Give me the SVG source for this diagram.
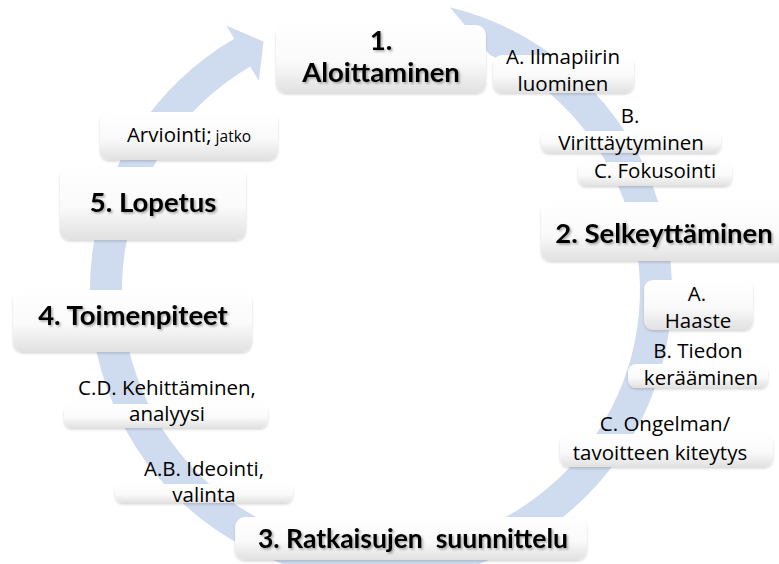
<svg xmlns="http://www.w3.org/2000/svg" width="779" height="564" viewBox="0 0 779 564">
  <defs>
    <linearGradient id="boxFill" x1="0" y1="0" x2="0" y2="1">
      <stop offset="0" stop-color="#ffffff"/>
      <stop offset="0.55" stop-color="#fafafa"/>
      <stop offset="1" stop-color="#e1e1e1"/>
    </linearGradient>
    <filter id="boxShadow" x="-10%" y="-30%" width="120%" height="170%">
      <feDropShadow dx="0" dy="1.5" stdDeviation="1.2" flood-color="#000" flood-opacity="0.16"/>
    </filter>
    <filter id="textShadow" x="-5%" y="-20%" width="115%" height="150%">
      <feDropShadow dx="1.5" dy="1.5" stdDeviation="1" flood-color="#000" flood-opacity="0.35"/>
    </filter>
  </defs>
  <style>
    .ring { fill: #cfdbef; }
    .box { fill: url(#boxFill); filter: url(#boxShadow); }
    .t { font-family: "Open Sans", "Liberation Sans", sans-serif; font-size: 20.5px; fill: #000; text-anchor: middle; }
    .h { font-family: Lato, "Liberation Sans", sans-serif; font-weight: bold; font-size: 27.5px; filter: url(#textShadow); }
    .small { font-size: 15.5px; }
  </style>

  <!-- circular process arrow -->
  <g id="connectors">
    <path class="ring" d="M 449.9 7.3 A 291 291 0 1 1 234.2 38.7 L 226.6 25.8 L 263.5 41.4 L 258.9 81.1 L 250.3 66.4 A 259 259 0 1 0 490.0 55.1 Z"/>
  </g>

  <g id="step1">
    <rect class="box" x="276" y="25" width="210" height="68" rx="10"/>
    <text class="t h" x="381" y="50">1.</text>
    <text class="t h" x="381" y="82">Aloittaminen</text>
  </g>
  <g id="step1a">
    <rect class="box" x="493" y="55" width="141" height="38" rx="9"/>
    <text class="t" x="563" y="64">A. Ilmapiirin</text>
    <text class="t" x="563" y="91">luominen</text>
  </g>
  <g id="step1b">
    <rect class="box" x="541" y="131" width="180" height="22" rx="8"/>
    <text class="t" x="630" y="123">B.</text>
    <text class="t" x="631" y="150">Virittäytyminen</text>
  </g>
  <g id="step1c">
    <rect class="box" x="578" y="162" width="154" height="24" rx="8"/>
    <text class="t" x="655" y="178">C. Fokusointi</text>
  </g>

  <g id="step2">
    <rect class="box" x="541" y="202" width="250" height="59" rx="10"/>
    <text class="t h" x="664" y="243">2. Selkeyttäminen</text>
  </g>
  <g id="step2a">
    <rect class="box" x="644" y="280" width="109" height="50" rx="9"/>
    <text class="t" x="697" y="301">A.</text>
    <text class="t" x="698" y="328">Haaste</text>
  </g>
  <g id="step2b">
    <rect class="box" x="628" y="364" width="140" height="24" rx="8"/>
    <text class="t" x="698" y="358">B. Tiedon</text>
    <text class="t" x="701" y="385">kerääminen</text>
  </g>
  <g id="step2c">
    <rect class="box" x="560" y="434" width="213" height="33" rx="9"/>
    <text class="t" x="665" y="431">C. Ongelman/</text>
    <text class="t" x="660" y="460">tavoitteen kiteytys</text>
  </g>

  <g id="step3">
    <rect class="box" x="235" y="517" width="352" height="43" rx="10"/>
    <text class="t h" x="413" y="548" xml:space="preserve" style="font-size:26.5px">3. Ratkaisujen  suunnittelu</text>
  </g>
  <g id="step3ab">
    <rect class="box" x="115" y="484" width="178" height="19" rx="8"/>
    <text class="t" x="204" y="476">A.B. Ideointi,</text>
    <text class="t" x="204" y="502">valinta</text>
  </g>

  <g id="step4cd">
    <rect class="box" x="64" y="404" width="204" height="24" rx="8"/>
    <text class="t" x="167" y="395">C.D. Kehittäminen,</text>
    <text class="t" x="167" y="421">analyysi</text>
  </g>
  <g id="step4">
    <rect class="box" x="13" y="290" width="239" height="62" rx="10"/>
    <text class="t h" x="133" y="325">4. Toimenpiteet</text>
  </g>

  <g id="step5">
    <rect class="box" x="60" y="167" width="186" height="73" rx="10"/>
    <text class="t h" x="153" y="212">5. Lopetus</text>
  </g>
  <g id="step5a">
    <rect class="box" x="100" y="112" width="178" height="48" rx="9"/>
    <text class="t" x="189" y="142">Arviointi;<tspan class="small"> jatko</tspan></text>
  </g>
</svg>
